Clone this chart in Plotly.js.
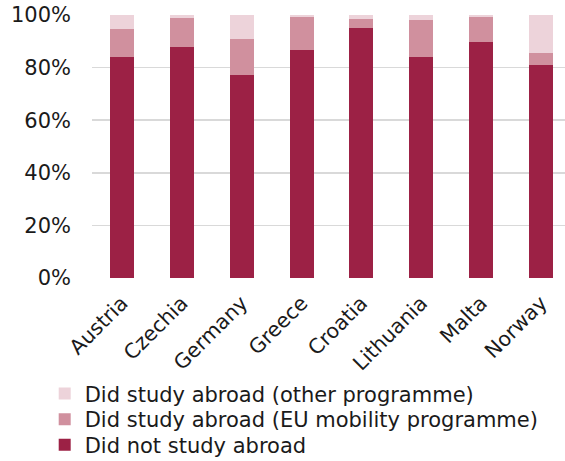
<!DOCTYPE html>
<html>
<head>
<meta charset="utf-8">
<script src="https://cdn.plot.ly/plotly-3.0.1.min.js"></script>
<style>html,body{margin:0;padding:0;background:#fff;}#chart{width:565px;height:461px;}</style>
</head>
<body>
<div id="chart"></div>
<script>
const countries = ["Austria", "Czechia", "Germany", "Greece", "Croatia", "Lithuania", "Malta", "Norway"];
const notAbroad = [84.0, 88.0, 77.2, 86.7, 95.1, 84.2, 89.8, 81.1];
const euMobility = [10.7, 10.7, 13.7, 12.5, 3.4, 14.0, 9.6, 4.6];
const otherProg = [5.3, 1.3, 9.1, 0.8, 1.5, 1.8, 0.6, 14.3];
const yTickVals = [0, 20, 40, 60, 80, 100];
const yTickText = ["0%", "20%", "40%", "60%", "80%", "100%"];

const font = "DejaVu Sans, Verdana, sans-serif";
const traces = [
  {type: "bar", name: "Did not study abroad", x: countries, y: notAbroad, marker: {color: "#9c2145"}, legend: "legend"},
  {type: "bar", name: "Did study abroad (EU mobility programme)", x: countries, y: euMobility, marker: {color: "#d0909e"}, legend: "legend2"},
  {type: "bar", name: "Did study abroad (other programme)", x: countries, y: otherProg, marker: {color: "#edd3da"}, legend: "legend3"}
];
const legBase = {x: -0.1, xanchor: "left", yanchor: "top", font: {size: 21}, itemwidth: 30, bgcolor: "rgba(0,0,0,0)"};
const layout = {
  width: 565, height: 461,
  margin: {l: 92, r: 0, t: 15, b: 183, autoexpand: false},
  barmode: "stack",
  bargap: 0.6,
  paper_bgcolor: "#fff", plot_bgcolor: "#fff",
  font: {family: font, size: 21, color: "#1a1a1a"},
  xaxis: {range: [-0.5, 7.4], tickangle: -45, ticklabelstandoff: 8, showgrid: false, zeroline: false, showline: false, ticks: "", tickfont: {size: 20.5}, automargin: false},
  yaxis: {range: [0, 100], tickvals: yTickVals, ticktext: yTickText, showgrid: true, gridcolor: "#d9d9d9", gridwidth: 1.5, zeroline: false, showline: false, ticks: "", ticklabelstandoff: 20, tickfont: {size: 21}, automargin: false},
  showlegend: true,
  legend: Object.assign({}, legBase, {y: -0.557}),
  legend2: Object.assign({}, legBase, {y: -0.460}),
  legend3: Object.assign({}, legBase, {y: -0.363})
};
Plotly.newPlot("chart", traces, layout, {displayModeBar: false, staticPlot: true});
</script>
</body>
</html>
